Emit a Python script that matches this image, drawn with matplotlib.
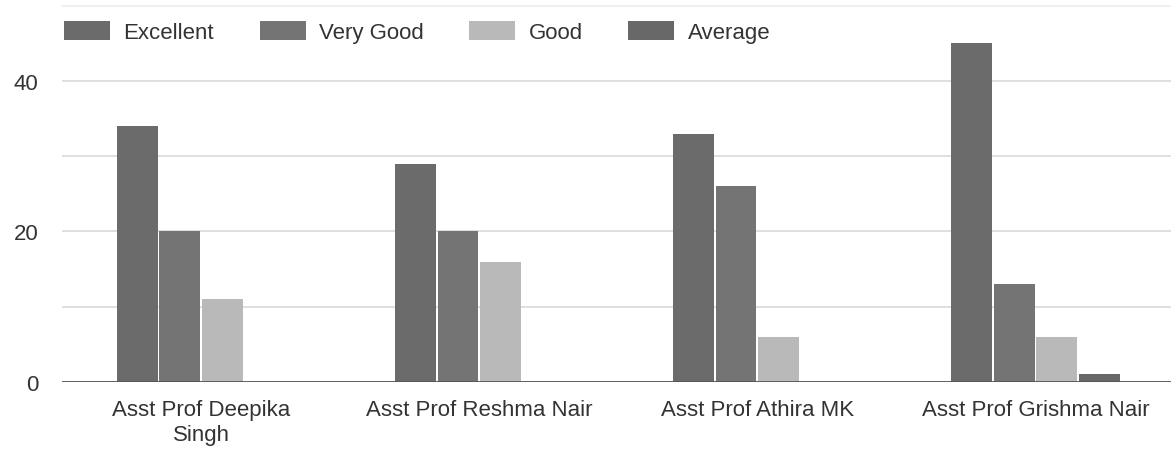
import matplotlib.pyplot as plt
import numpy as np

plt.rcParams['font.family'] = ['Liberation Sans', 'DejaVu Sans']

# data
teachers = ['Asst Prof Deepika\nSingh', 'Asst Prof Reshma Nair',
            'Asst Prof Athira MK', 'Asst Prof Grishma Nair']
series = ['Excellent', 'Very Good', 'Good', 'Average']
excellent = [34, 29, 33, 45]
very_good = [20, 20, 26, 13]
good = [11, 16, 6, 6]
average = [0, 0, 0, 1]

colors = ['#6b6b6b', '#747474', '#b9b9b9', '#686868']

fig = plt.figure(figsize=(11.71, 4.52), dpi=100)
ax = fig.add_axes([0.053, 0.153, 0.95, 0.832])

x = np.arange(len(teachers))
w = 0.153
values = [excellent, very_good, good, average]
for i, (name, vals) in enumerate(zip(series, values)):
    off = (i - 1.5) * w
    ax.bar(x + off, vals, width=w * 0.96, color=colors[i], label=name, zorder=3)

ax.set_xlim(-0.5, 3.5)
ax.set_ylim(0, 50)
ax.set_yticks([0, 20, 40])
ax.set_yticks([10, 30], minor=True)
ax.grid(axis='y', which='both', color='#d9d9d9', linewidth=1.2, zorder=0)
ax.axhline(50, color='#ececec', linewidth=1.2, zorder=0, clip_on=False)
ax.axhline(0, color='#555555', linewidth=2, zorder=4)
for s in ax.spines.values():
    s.set_visible(False)
ax.tick_params(axis='both', which='both', length=0, labelsize=16, colors='#333333')
ax.tick_params(axis='y', pad=17)
ax.tick_params(axis='x', pad=12)
ax.set_xticks(x)
ax.set_xticklabels(teachers, linespacing=1.3)

leg = fig.legend(loc='center left', bbox_to_anchor=(64 / 1171, 1 - 33 / 452),
                 bbox_transform=fig.transFigure, ncol=4, frameon=False,
                 fontsize=16, handlelength=2.07, handleheight=0.9, columnspacing=2.05,
                 handletextpad=0.6, borderpad=0, borderaxespad=0)
for t in leg.get_texts():
    t.set_color('#333333')

fig.savefig('out.png', dpi=100)
